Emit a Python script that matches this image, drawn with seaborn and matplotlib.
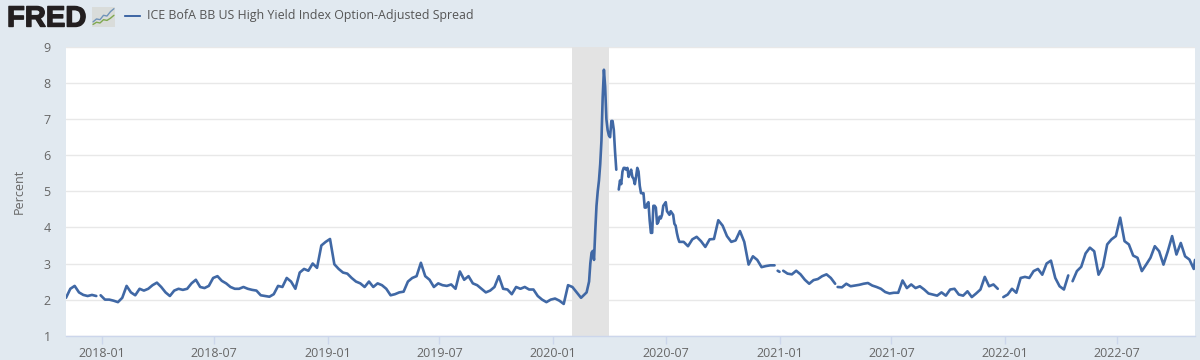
import matplotlib
matplotlib.use("Agg")
import matplotlib.pyplot as plt
import matplotlib.dates as mdates
import matplotlib.patheffects as pe
import pandas as pd
import seaborn as sns

# values, split where the FRED line has holes
vals_a = [2.05, 2.3, 2.38, 2.2, 2.13, 2.1, 2.13, 2.1]

vals_b = [2.12, 2.0, 2.0, 1.97, 1.93, 2.05, 2.38, 2.2, 2.12, 2.3, 2.25, 2.3, 2.4, 2.47,
          2.35, 2.2, 2.1, 2.25, 2.3, 2.27, 2.3, 2.45, 2.55, 2.35, 2.32, 2.38, 2.6, 2.65,
          2.52, 2.45, 2.35, 2.3, 2.3, 2.35, 2.3, 2.27, 2.25, 2.12, 2.1, 2.08, 2.15, 2.38,
          2.35, 2.6, 2.5, 2.3, 2.75, 2.85, 2.8, 3.0, 2.88, 3.5, 3.6, 3.68, 2.98, 2.85,
          2.75, 2.72, 2.6, 2.5, 2.45, 2.35, 2.5, 2.35, 2.45, 2.4, 2.3, 2.12, 2.15, 2.2,
          2.22, 2.5, 2.6, 2.65, 3.02, 2.65, 2.55, 2.35, 2.45, 2.4, 2.38, 2.42, 2.3, 2.78,
          2.55, 2.65, 2.45, 2.4, 2.3, 2.2, 2.25, 2.35, 2.65, 2.3, 2.28, 2.15, 2.35, 2.3,
          2.35, 2.28, 2.28, 2.1, 2.0, 1.93, 2.0, 2.03, 1.97, 1.88, 2.4, 2.35, 2.2, 2.05]

spike_up = [2.2, 2.35, 2.5, 3.0, 3.3, 3.35, 3.1, 3.9, 4.6, 5.0, 5.3, 5.75, 6.4, 7.6, 8.37,
            7.9, 7.0, 6.7, 6.55, 6.5, 6.95, 6.95, 6.7, 6.1, 5.6]

spike_down = [5.05, 5.3, 5.2, 5.55, 5.65, 5.65, 5.6, 5.65, 5.4, 5.5, 5.6, 5.4, 5.35, 5.2,
              5.4, 5.65, 5.55, 5.15, 4.95, 4.95, 4.95, 4.55, 4.55, 4.65, 4.7, 4.2, 3.85,
              3.85, 4.6, 4.6, 4.55, 4.1, 4.15, 4.3, 4.25, 4.35, 4.6, 4.65, 4.7, 4.45, 4.4,
              4.35, 4.45, 4.4, 4.35, 4.1, 4.05, 3.85, 3.7, 3.6]

vals_c = [3.6, 3.48, 3.67, 3.74, 3.62, 3.46, 3.67, 3.68, 4.2, 4.05, 3.76, 3.6, 3.64, 3.9,
          3.6, 2.97, 3.2, 3.1, 2.9, 2.93, 2.95, 2.95]

vals_dot = [2.8, 2.77]

vals_d = [2.8, 2.72, 2.7, 2.8, 2.7, 2.55, 2.44, 2.54, 2.57, 2.65, 2.7, 2.6, 2.44]

vals_e = [2.35, 2.34, 2.44, 2.37, 2.39, 2.41, 2.44, 2.46, 2.39, 2.35, 2.3, 2.21, 2.17, 2.19,
          2.19, 2.53, 2.32, 2.42, 2.32, 2.37, 2.28, 2.17, 2.14, 2.11, 2.2, 2.11, 2.28, 2.3,
          2.14, 2.11, 2.23, 2.07, 2.17, 2.28, 2.63, 2.37, 2.42, 2.3]

vals_f = [2.07, 2.14, 2.3, 2.19, 2.6, 2.63, 2.6, 2.79, 2.85, 2.69, 3.0, 3.08, 2.6, 2.37,
          2.28, 2.67]

vals_g = [2.51, 2.79, 2.91, 3.28, 3.44, 3.34, 2.69, 2.91, 3.53, 3.67, 3.76, 4.27, 3.62, 3.53,
          3.22, 3.16, 2.79, 2.97, 3.16, 3.48, 3.34, 2.97, 3.34, 3.76, 3.25, 3.57, 3.2, 3.11,
          2.85]

y_ticks = [1, 2, 3, 4, 5, 6, 7, 8, 9]
x_ticks = ["2018-01", "2018-07", "2019-01", "2019-07", "2020-01", "2020-07", "2021-01",
           "2021-07", "2022-01", "2022-07"]
recession = ["2020-02-01", "2020-04-01"]
legend_label = "ICE BofA BB US High Yield Index Option-Adjusted Spread"
icon_blue = [1.4, 2.2, 2, 3.2, 3, 4.2, 5]
icon_green = [0.7, 1.3, 1.1, 2, 1.8, 2.4, 3.2]


def span(start, values, freq="7D"):
    return pd.date_range(start, periods=len(values), freq=freq)


def piece(*parts):
    dates = [d for p in parts for d in p[0]]
    values = [v for p in parts for v in p[1]]
    return pd.DataFrame({"date": dates, "value": values})


pieces = [
    piece((span("2017-11-04", vals_a), vals_a)),
    piece((span("2017-12-30", vals_b), vals_b), (span("2020-02-24", spike_up, "2D"), spike_up)),
    piece((span("2020-04-16", spike_down, "2D"), spike_down), (span("2020-07-30", vals_c), vals_c)),
    piece((span("2020-12-29", vals_dot, "3D"), vals_dot)),
    piece((span("2021-01-07", vals_d), vals_d)),
    piece((span("2021-04-05", vals_e), vals_e)),
    piece((span("2021-12-29", vals_f), vals_f)),
    piece((span("2022-04-20", vals_g), vals_g), ([pd.Timestamp("2022-11-04")], [3.1])),
]

sns.set_theme(style="white")
plt.rcParams["font.family"] = ["Open Sans", "DejaVu Sans"]

bg = "#e1e9f0"
line_col = "#4068a5"
txt = "#666666"

fig = plt.figure(figsize=(12, 3.6), dpi=100, facecolor=bg)
ax = fig.add_axes([66 / 1200, 1 - 335.7 / 360, (1195 - 66) / 1200, (335.7 - 47) / 360])
ax.set_facecolor("white")

for p in pieces:
    sns.lineplot(data=p, x="date", y="value", ax=ax, color=line_col, linewidth=1.9,
                 estimator=None, zorder=3)

ax.axvspan(pd.Timestamp(recession[0]), pd.Timestamp(recession[1]), color="#e3e3e3", lw=0, zorder=2)

ax.set_xlim(pd.Timestamp("2017-11-04"), pd.Timestamp("2022-11-04"))
ax.set_ylim(1, 9)
ax.set_yticks(y_ticks)
ax.set_xticks([pd.Timestamp(t + "-01") for t in x_ticks])
ax.xaxis.set_major_formatter(mdates.DateFormatter("%Y-%m"))
ax.set_axisbelow(True)
ax.grid(axis="y", color="#e8e8e8", linewidth=1)
ax.grid(axis="x", visible=False)

ax.tick_params(axis="y", length=0, pad=11, labelsize=9, labelcolor=txt)
ax.tick_params(axis="x", length=6, width=1, color="#ccd6eb", pad=2, labelsize=9, labelcolor=txt, bottom=True)

for s in ["top", "right", "left"]:
    ax.spines[s].set_visible(False)
ax.spines["bottom"].set_color("#ccd6eb")
ax.spines["bottom"].set_linewidth(1)

ax.set_xlabel("")
ax.set_ylabel("Percent", fontsize=9, color=txt)
ax.yaxis.set_label_coords(-40 / 1129, 0.5)

# header: logo, icon and legend
logo = fig.text(7 / 1200, 1 - 18.5 / 360, "FRED", family=["Liberation Sans"], fontweight="bold",
                fontsize=21, color="#231f20", va="center", ha="left")
logo.set_path_effects([pe.withStroke(linewidth=1.0, foreground="#231f20")])
icon = fig.add_axes([92 / 1200, 1 - 27 / 360, 23 / 1200, 20.5 / 360])
icon.set_facecolor("#d9dcda")
icon.plot(icon_blue, color="#6f93b8", lw=1)
icon.plot(icon_green, color="#7fa84f", lw=1)
icon.set_xticks([])
icon.set_yticks([])
icon.set_ylim(0, 5.6)
for s in icon.spines.values():
    s.set_visible(False)

leg = fig.add_axes([124 / 1200, 1 - 17 / 360, 17 / 1200, 2 / 360])
leg.axis("off")
leg.plot([0, 1], [0, 0], color=line_col, lw=1.6)
fig.text(147 / 1200, 1 - 16 / 360, legend_label, fontsize=8.95, color="#555555", va="center", ha="left")

fig.savefig("out.png", dpi=100, facecolor=bg)
